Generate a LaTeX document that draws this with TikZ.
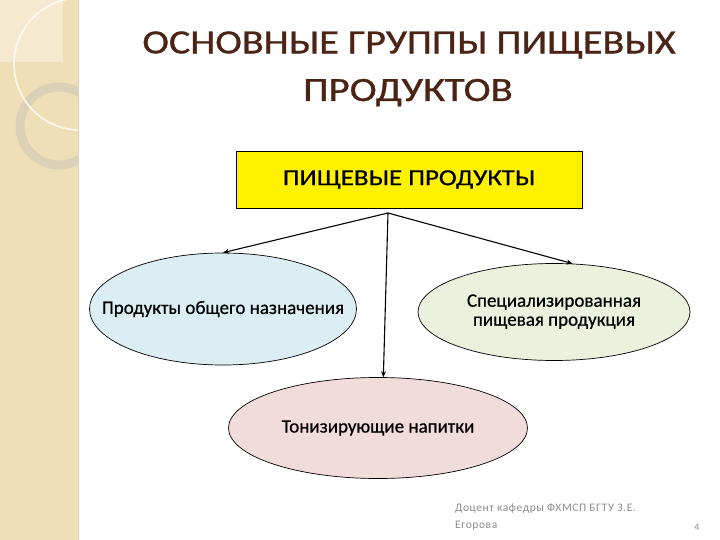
\documentclass[tikz,border=0pt]{standalone}
\usepackage{fontspec}
\setmainfont{Carlito}
\newfontfamily\heavyfont[FakeBold=0.6]{Carlito}
\newfontfamily\titlefont[FakeBold=0.8]{Carlito}
\newfontfamily\footfont[LetterSpace=5]{Carlito}
\usetikzlibrary{shapes.geometric,arrows.meta}
\definecolor{strip}{HTML}{EFDFB6}
\definecolor{stripsq}{HTML}{F5EACF}
\definecolor{ringc}{HTML}{D9D0B6}
\definecolor{titlec}{HTML}{4B2416}
\definecolor{blueF}{HTML}{DBEEF4}
\definecolor{greenF}{HTML}{EBF1DD}
\definecolor{pinkF}{HTML}{F2DCDB}
\definecolor{footc}{HTML}{8C8C8C}
\newcommand{\zw}[1]{\makebox[0pt]{#1}}
\tikzset{
  oval/.style={ellipse, draw=black, line width=0.7pt, inner sep=0pt, align=center, font=\heavyfont\fontsize{19}{21}\selectfont},
  conn/.style={draw=black, line width=1.1pt, -{Stealth[length=6pt,width=5pt]}},
}
\begin{document}
\begin{tikzpicture}[x=1pt,y=-1pt]
\useasboundingbox (0,0) rectangle (720,540);
\fill[white] (0,0) rectangle (720,540);
% left strip
\fill[strip] (0,0) rectangle (78,540);
\begin{scope}
\clip (0,0) rectangle (78,540);
\fill[stripsq] (0,0) rectangle (63,62);
\draw[ringc, line width=9pt, opacity=0.9] (59,126) circle[radius=39];
\draw[white, opacity=0.8, line width=1.6pt] (80,64) circle[radius=66];
\end{scope}
\draw[ringc!80!strip, line width=0.6pt] (78,0) -- (78,540);
% title
\node[text=titlec, inner sep=0pt] (title1) at (409,45) {\scalebox{1.18}[1]{\titlefont\fontsize{34}{40}\selectfont ОСНОВНЫЕ ГРУППЫ ПИЩЕВЫХ}};
\node[text=titlec, inner sep=0pt, anchor=base] (title2) at (408,101) {\scalebox{1.2}[1]{\titlefont\fontsize{34}{40}\selectfont ПРОДУКТОВ}};
% main box
\node[draw=black, line width=0.8pt, fill=yellow, minimum width=346pt, minimum height=57pt, inner sep=0pt] (top) at (409,179.5) {\scalebox{1.17}[1]{\heavyfont\fontsize{23}{26}\selectfont ПИЩЕВЫЕ ПРОДУКТЫ}};
\coordinate (hub) at (388,213);
% ellipses
\node[oval, fill=blueF, minimum width=267pt, minimum height=112pt] (L) at (223,309) {\zw{Продукты общего назначения}};
\node[oval, fill=greenF, minimum width=272pt, minimum height=97pt] (R) at (554,312) {\zw{\begin{tabular}{@{}c@{}}Специализированная\\[-2pt]пищевая продукция\end{tabular}}};
\node[oval, fill=pinkF, minimum width=299pt, minimum height=101pt] (B) at (378,428) {\zw{Тонизирующие напитки}};
% connectors
\draw[conn] (hub) -- (L.north);
\draw[conn] (hub) -- (R.69);
\draw[conn] (hub) -- (B.84);
% footer
\node[anchor=north west, align=left, text=footc, font=\footfont\fontsize{11.5}{17}\selectfont, inner sep=0pt] (foot) at (455,504) {Доцент кафедры ФХМСП БГТУ З.Е.\\Егорова};
\node[text=footc, font=\fontsize{10}{12}\selectfont, inner sep=0pt] (pg) at (697,527) {4};
\end{tikzpicture}
\end{document}
